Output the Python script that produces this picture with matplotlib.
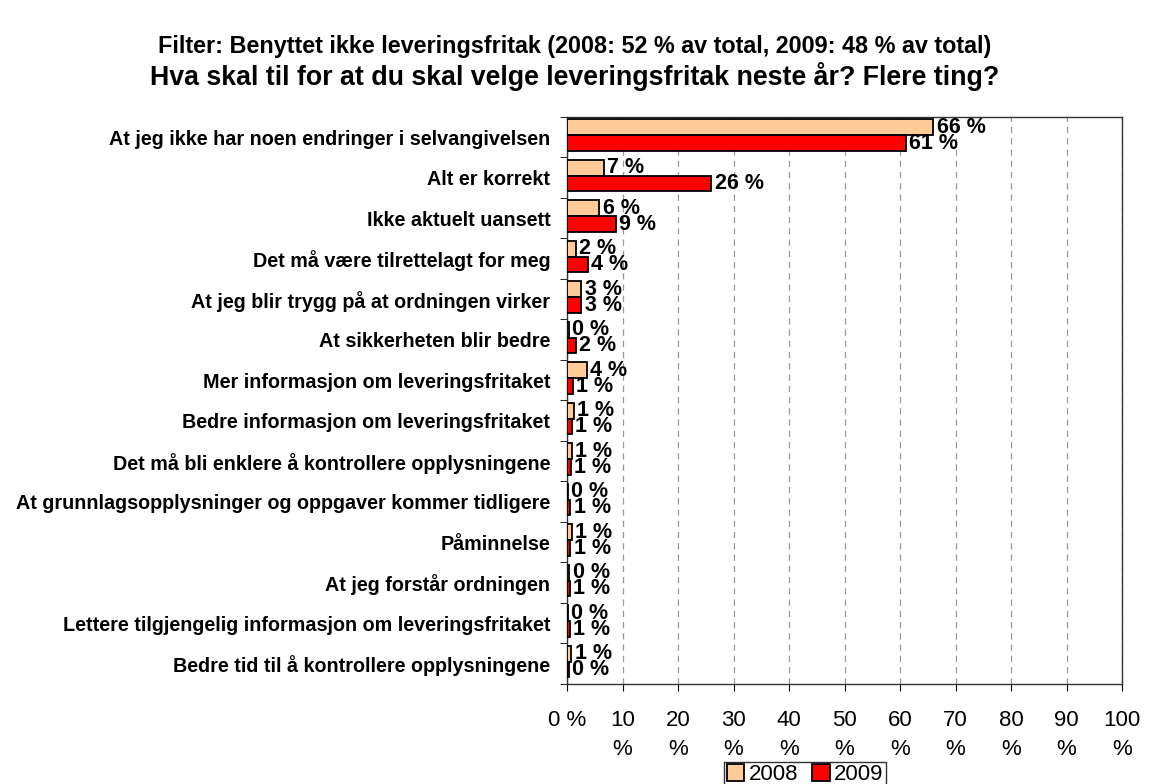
import matplotlib.pyplot as plt
import numpy as np

plt.rcParams['font.family'] = ['Liberation Sans', 'DejaVu Sans']

categories = [
    'At jeg ikke har noen endringer i selvangivelsen',
    'Alt er korrekt',
    'Ikke aktuelt uansett',
    'Det må være tilrettelagt for meg',
    'At jeg blir trygg på at ordningen virker',
    'At sikkerheten blir bedre',
    'Mer informasjon om leveringsfritaket',
    'Bedre informasjon om leveringsfritaket',
    'Det må bli enklere å kontrollere opplysningene',
    'At grunnlagsopplysninger og oppgaver kommer tidligere',
    'Påminnelse',
    'At jeg forstår ordningen',
    'Lettere tilgjengelig informasjon om leveringsfritaket',
    'Bedre tid til å kontrollere opplysningene',
]
values_2008 = [66.0, 6.6, 5.8, 1.6, 2.6, 0.3, 3.6, 1.2, 0.9, 0.2, 0.9, 0.4, 0.1, 0.8]
values_2009 = [61.0, 26.0, 8.8, 3.8, 2.6, 1.6, 1.0, 0.9, 0.7, 0.6, 0.6, 0.55, 0.55, 0.3]
series = ['2008', '2009']
xticks = [0, 10, 20, 30, 40, 50, 60, 70, 80, 90, 100]
xticklabels = ['0 %'] + [f'{v}\n%' for v in xticks[1:]]

fig = plt.figure(figsize=(11.49, 7.84), dpi=100)
ax = fig.add_axes([0.4935, 0.1276, 0.483, 0.7232])

n = len(categories)
y = np.arange(n)
h = 0.39
b1 = ax.barh(y - h / 2 - 0.05, values_2008, height=h, color='#FFCC99',
             edgecolor='black', linewidth=1.3, label=series[0], zorder=3)
b2 = ax.barh(y + h / 2 - 0.05, values_2009, height=h, color='#FF0000',
             edgecolor='black', linewidth=1.3, label=series[1], zorder=3)

for bars, vals in ((b1, values_2008), (b2, values_2009)):
    for bar, v in zip(bars, vals):
        ax.text(v + 0.6, bar.get_y() + bar.get_height() / 2, f'{v:.0f} %',
                ha='left', va='center', fontsize=15.5, fontweight='bold', zorder=4)

ax.set_xlim(0, 100)
ax.set_ylim(n - 0.5, -0.5)
ax.set_xticks(xticks)
ax.set_xticklabels(xticklabels, fontsize=16, linespacing=1.45)
ax.tick_params(axis='x', length=5, pad=14)
ax.set_yticks(y)
ax.set_yticklabels(categories, fontsize=14.2, fontweight='bold')
ax.tick_params(axis='y', length=0, pad=12)
ax.set_yticks(np.arange(n + 1) - 0.5, minor=True)
ax.tick_params(axis='y', which='minor', length=5)
ax.grid(axis='x', color='#999999', linestyle=(0, (5, 4)), linewidth=0.9, zorder=0)
for s in ax.spines.values():
    s.set_linewidth(1.0)
    s.set_color('#333333')

fig.text(0.5, 0.941, 'Filter: Benyttet ikke leveringsfritak (2008: 52 % av total, 2009: 48 % av total)',
         ha='center', va='center', fontsize=16.8, fontweight='bold')
fig.text(0.5, 0.903, 'Hva skal til for at du skal velge leveringsfritak neste år? Flere ting?',
         ha='center', va='center', fontsize=19.3, fontweight='bold')

leg = fig.legend(loc='upper center', bbox_to_anchor=(805 / 1149, 1 - 762 / 784), ncol=2,
                 fontsize=16, frameon=True, fancybox=False, edgecolor='black',
                 handlelength=0.8, handleheight=0.8, handletextpad=0.2,
                 columnspacing=0.6, borderpad=0.1, borderaxespad=0)
leg.get_frame().set_linewidth(1.0)

fig.savefig('out.png', dpi=100)
